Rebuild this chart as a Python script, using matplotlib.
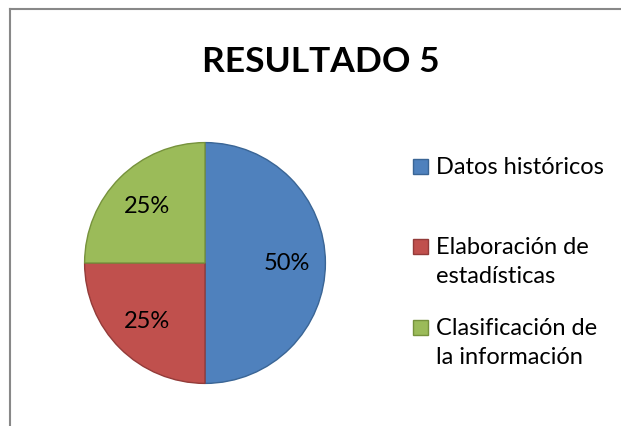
import matplotlib
matplotlib.use("Agg")
import matplotlib.pyplot as plt
from matplotlib.lines import Line2D
from matplotlib.patches import Rectangle

title = "RESULTADO 5"
categories = ["Datos históricos", "Elaboración de\nestadísticas", "Clasificación de\nla información"]
values = [50, 25, 25]
colors = ["#4F81BD", "#C0504D", "#9BBB59"]
edges = ["#3A6595", "#933B39", "#76923C"]

W, H = 621, 427
fig = plt.figure(figsize=(W / 100, H / 100), dpi=100)
fig.patch.set_facecolor("white")

# border (left and top visible)
fig.add_artist(Line2D([9.5 / W, 9.5 / W], [0, 1 - 10 / H], transform=fig.transFigure, color="#888888", lw=1.5))
fig.add_artist(Line2D([9.5 / W, 1], [1 - 10 / H, 1 - 10 / H], transform=fig.transFigure, color="#888888", lw=1.5))

fig.text(321 / W, 1 - 62 / H, title, ha="center", va="center", fontsize=25.5, fontweight="bold", family="Lato")

cx, cy, r = 205, 264, 121
ax = fig.add_axes([(cx - r) / W, 1 - (cy + r) / H, 2 * r / W, 2 * r / H])
wedges, texts, autotexts = ax.pie(values, colors=colors, startangle=90, counterclock=False,
                                  autopct="%1.0f%%", pctdistance=0.68,
                                  wedgeprops=dict(linewidth=1, edgecolor="none"),
                                  textprops=dict(fontsize=17, family="Lato", color="black"),
                                  radius=1)
for w, ec in zip(wedges, edges):
    w.set_edgecolor(ec)
ax.set_xlim(-1.005, 1.005)
ax.set_ylim(-1.005, 1.005)
ax.set_aspect("equal")
ax.axis("off")

# legend entries
entry_y = [167, 247, 328]
for lab, c, ec, y in zip(categories, colors, edges, entry_y):
    fig.add_artist(Rectangle((413 / W, 1 - (y + 8) / H), 15 / W, 15 / H, transform=fig.transFigure,
                             facecolor=c, edgecolor=ec, lw=1))
    fig.text(436 / W, 1 - (y - 10) / H, lab, ha="left", va="top", fontsize=17, family="Lato",
             linespacing=1.5)
plt.savefig("out.png", dpi=100)
